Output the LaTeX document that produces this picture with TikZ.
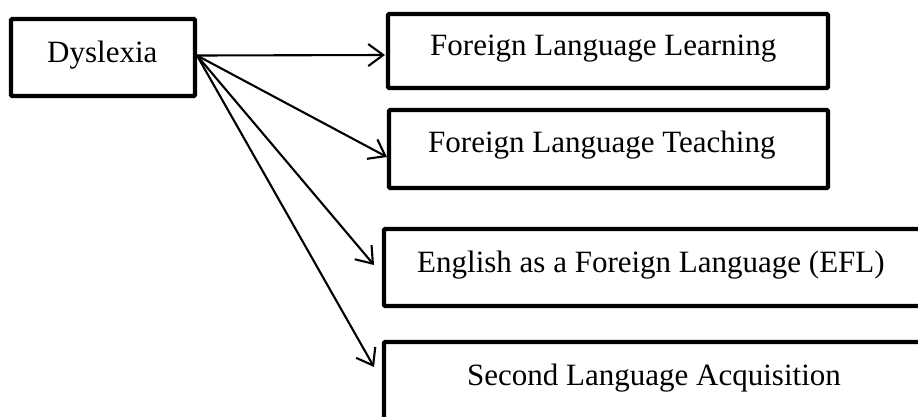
\documentclass[tikz,border=0pt]{standalone}
\usepackage{fontspec}
\setmainfont{Liberation Serif}
\usetikzlibrary{arrows.meta}
\begin{document}
\begin{tikzpicture}[x=1pt,y=-1pt,
  box/.style={draw=black, line width=4.2pt, rounded corners=1pt, fill=white,
              inner sep=0pt, outer sep=0pt, anchor=north west},
  lbl/.style={inner sep=0pt, anchor=base west,
              font=\fontsize{31}{37}\selectfont},
  arr/.style={draw=black, line width=2.1pt,
              -{Straight Barb[length=15pt,width=22pt]}}]
  \useasboundingbox (0,0) rectangle (918,416);
  \clip (0,0) rectangle (918,416);

  % source box
  \node[box, minimum width=184pt, minimum height=77pt] (dys) at (11,19) {};
  \node[lbl] (tdys) at (47,62) {Dyslexia};

  % target boxes (the lower two run past the page edge)
  \node[box, minimum width=440pt, minimum height=74pt] (b1) at (388,14) {};
  \node[box, minimum width=439pt, minimum height=78pt] (b2) at (389,110) {};
  \node[box, minimum width=560pt, minimum height=77pt] (b3) at (384,229) {};
  \node[box, minimum width=560pt, minimum height=120pt] (b4) at (384,342) {};

  \node[lbl] (t1) at (430,55) {Foreign Language Learning};
  \node[lbl] (t2) at (428,152) {Foreign Language Teaching};
  \node[lbl] (t3) at (417,272) {English as a Foreign Language (EFL)};
  \node[lbl] (t4) at (467,385) {Second Language Acquisition};

  % arrow ends
  \coordinate (e1) at (385,55);
  \coordinate (e2) at (387,157);
  \coordinate (e3) at (374,265);
  \coordinate (e4) at (374,367);

  \draw[arr] ([xshift=2pt,yshift=2pt]dys.east) -- (e1);
  \draw[arr] ([xshift=2pt,yshift=2pt]dys.east) -- (e2);
  \draw[arr] ([xshift=2pt,yshift=2pt]dys.east) -- (e3);
  \draw[arr] ([xshift=2pt,yshift=2pt]dys.east) -- (e4);
\end{tikzpicture}
\end{document}
